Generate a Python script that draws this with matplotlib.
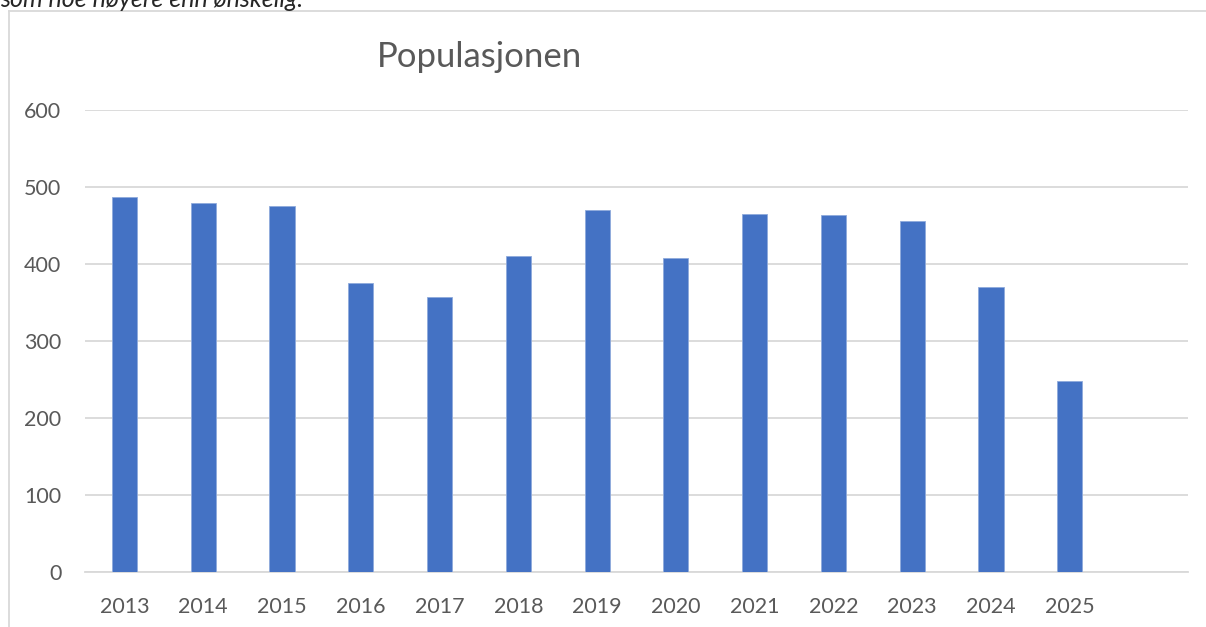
import matplotlib.pyplot as plt
from matplotlib.lines import Line2D

# Data
years = ['2013', '2014', '2015', '2016', '2017', '2018', '2019',
         '2020', '2021', '2022', '2023', '2024', '2025', '']
population = [487, 479, 475, 375, 357, 410, 470,
              408, 465, 464, 456, 370, 248, 0]
y_ticks = [0, 100, 200, 300, 400, 500, 600]

W, H = 1206, 627
plt.rcParams['font.family'] = ['Lato', 'DejaVu Sans']

fig = plt.figure(figsize=(W / 100, H / 100), dpi=100)
ax = fig.add_axes([85 / W, 1 - 572 / H, (1188 - 85) / W, (572 - 110) / H])

x = list(range(len(years)))
ax.bar(x[:13], population[:13], width=0.32, color='#4472C4',
       edgecolor='#8FAADC', linewidth=0.6, zorder=3)

ax.set_xlim(-0.5, len(years) - 0.5)
ax.set_ylim(0, 600)
ax.set_yticks(y_ticks)
ax.set_yticklabels([str(v) for v in y_ticks], fontsize=15.5, color='#595959')
ax.set_xticks(x[:13])
ax.set_xticklabels(years[:13], fontsize=15.5, color='#595959')
ax.tick_params(axis='both', length=0)
ax.tick_params(axis='x', pad=18)
ax.tick_params(axis='y', pad=17)
ax.grid(axis='y', color='#D9D9D9', linewidth=1.3, zorder=0)
for s in ['top', 'right', 'left']:
    ax.spines[s].set_visible(False)
ax.spines['bottom'].set_color('#D9D9D9')
ax.spines['bottom'].set_linewidth(1.3)

fig.text(479 / W, 1 - 57 / H, 'Populasjonen', fontsize=25, color='#595959',
         ha='center', va='center')

# Cropped caption above the chart and chart border
fig.text(0, 1 - 7 / H, 'som noe høyere enn ønskelig.', fontsize=18,
         style='italic', color='#262626', va='baseline')
fig.add_artist(Line2D([9 / W, 9 / W], [0, 1 - 11 / H], color='#D9D9D9',
                      linewidth=1.3, transform=fig.transFigure))
fig.add_artist(Line2D([9 / W, 1], [1 - 11 / H, 1 - 11 / H], color='#D9D9D9',
                      linewidth=1.3, transform=fig.transFigure))

fig.savefig('out.png', dpi=100)
